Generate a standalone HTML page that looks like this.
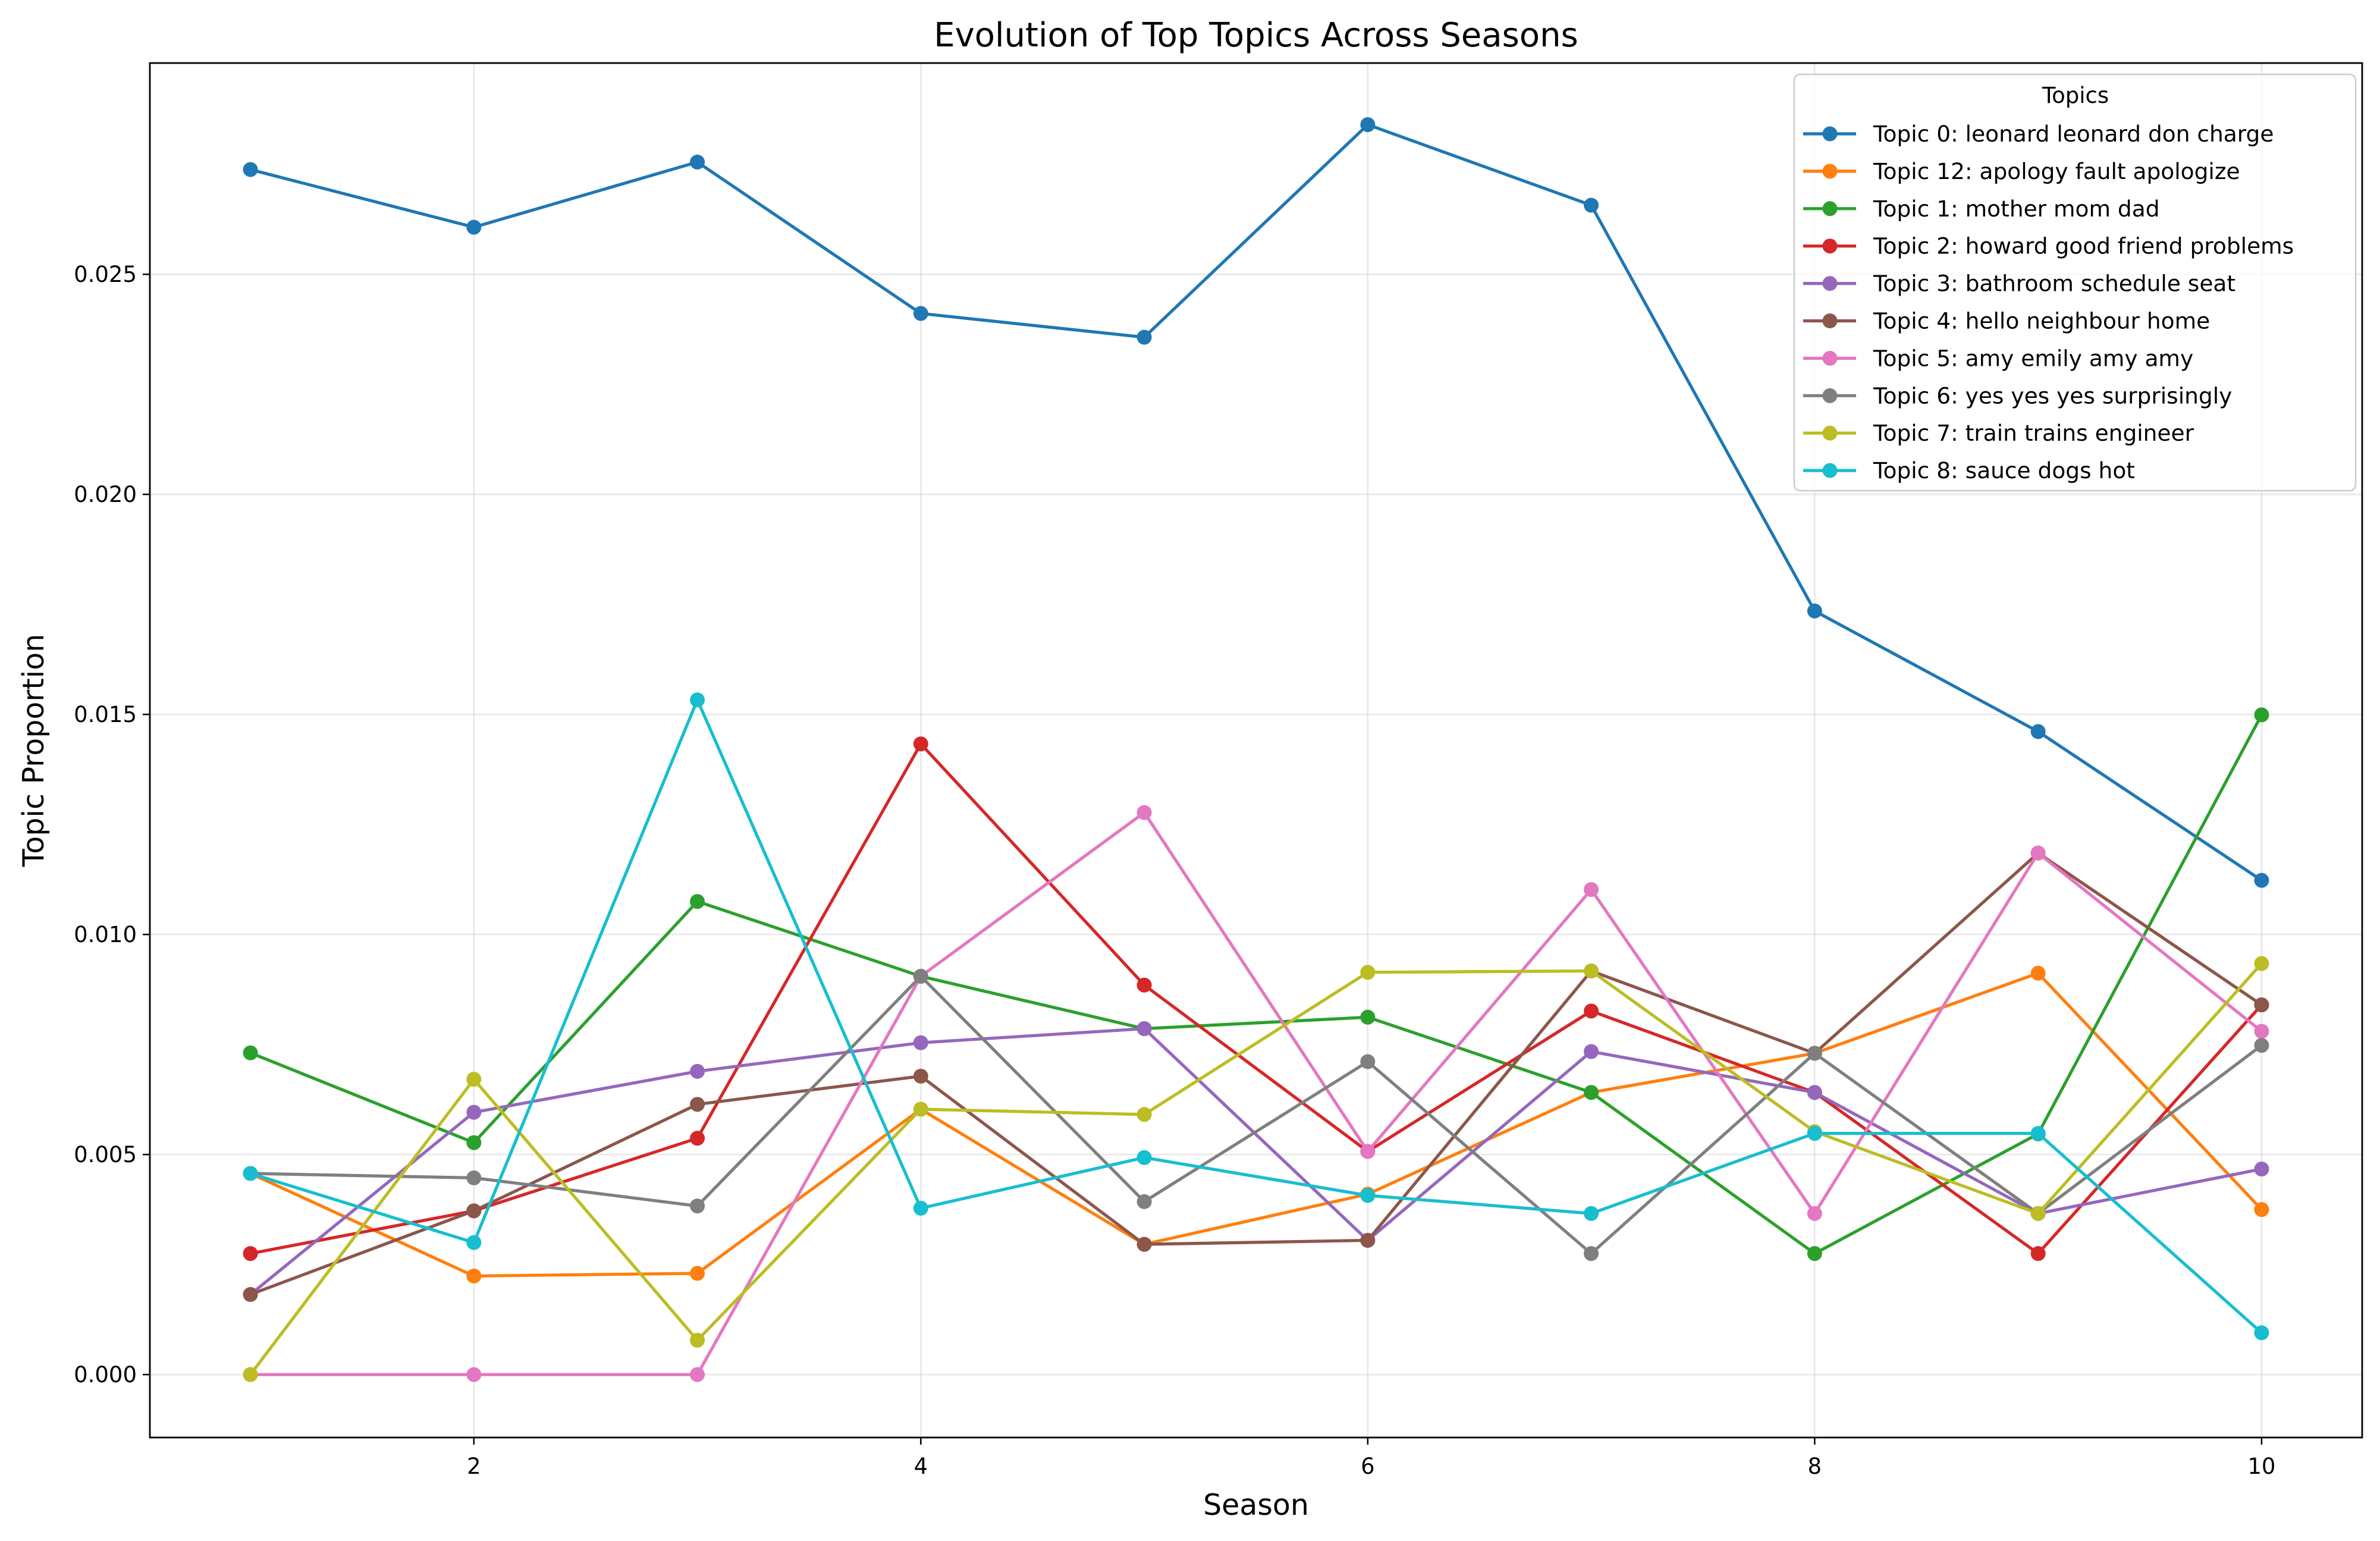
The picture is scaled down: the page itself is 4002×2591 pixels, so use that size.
<!DOCTYPE html>
<html><head><meta charset="utf-8"><style>
html,body{margin:0;padding:0;background:#fff;}
svg{display:block;font-family:"DejaVu Sans","Liberation Sans",sans-serif;}
</style></head><body>
<svg id="chart" width="4002" height="2591" viewBox="0 0 4002 2591" xmlns="http://www.w3.org/2000/svg">
<rect width="4002" height="2591" fill="#fff"/>
<g id="grid"></g><g id="series"></g><g id="axes"></g><g id="legend"></g>
</svg>
<script>
const seasons = [1,2,3,4,5,6,7,8,9,10];
const topicLabels = ["Topic 0: leonard leonard don charge","Topic 12: apology fault apologize","Topic 1: mother mom dad","Topic 2: howard good friend problems","Topic 3: bathroom schedule seat","Topic 4: hello neighbour home","Topic 5: amy emily amy amy","Topic 6: yes yes yes surprisingly","Topic 7: train trains engineer","Topic 8: sauce dogs hot"];
const topic0 = [0.02738,0.02607,0.02755,0.02411,0.02357,0.02840,0.02657,0.01735,0.01461,0.01123];
const topic12 = [0.00457,0.00224,0.00230,0.00603,0.00296,0.00410,0.00641,0.00730,0.00912,0.00375];
const topic1 = [0.00731,0.00527,0.01075,0.00905,0.00786,0.00812,0.00641,0.00275,0.00547,0.01499];
const topic2 = [0.00275,0.00372,0.00537,0.01433,0.00885,0.00507,0.00826,0.00641,0.00275,0.00840];
const topic3 = [0.00182,0.00596,0.00689,0.00754,0.00786,0.00305,0.00734,0.00641,0.00366,0.00467];
const topic4 = [0.00182,0.00372,0.00614,0.00678,0.00296,0.00305,0.00917,0.00730,0.01185,0.00840];
const topic5 = [0,0,0,0.00905,0.01277,0.00507,0.01102,0.00366,0.01185,0.00780];
const topic6 = [0.00457,0.00447,0.00383,0.00905,0.00393,0.00711,0.00275,0.00730,0.00366,0.00748];
const topic7 = [0,0.00671,0.00078,0.00603,0.00591,0.00914,0.00917,0.00552,0.00366,0.00934];
const topic8 = [0.00457,0.00300,0.01533,0.00378,0.00493,0.00407,0.00366,0.00548,0.00548,0.00095];
const xTicks = [2,4,6,8,10];
const yTicks = [0,0.005,0.010,0.015,0.020,0.025];
const yTickLabels = ["0.000","0.005","0.010","0.015","0.020","0.025"];

const allSeries = [topic0,topic12,topic1,topic2,topic3,topic4,topic5,topic6,topic7,topic8];
const colors = ["#1f77b4","#ff7f0e","#2ca02c","#d62728","#9467bd","#8c564b","#e377c2","#7f7f7f","#bcbd22","#17becf"];
const L=252,R=3972,T=106,B=2417;
const xMin=0.55,xMax=10.45,yMin=-0.00143,yMax=0.02980;
const xs=v=>L+(v-xMin)/(xMax-xMin)*(R-L);
const ys=v=>B-(v-yMin)/(yMax-yMin)*(B-T);
const NS="http://www.w3.org/2000/svg";
function mk(parent,tag,attrs,text){const e=document.createElementNS(NS,tag);for(const k in attrs)e.setAttribute(k,attrs[k]);if(text!==undefined)e.textContent=text;parent.appendChild(e);return e;}
const grid=document.getElementById('grid'),ser=document.getElementById('series'),axes=document.getElementById('axes'),leg=document.getElementById('legend');

xTicks.forEach(t=>{
 const x=xs(t);
 const g=mk(grid,'line',{x1:x,x2:x,y1:T,y2:B,stroke:'#b0b0b0','stroke-opacity':0.3,'stroke-width':2.5});
 
 
 const tk=mk(axes,'line',{x1:x,x2:x,y1:B,y2:B+12,stroke:'#000','stroke-width':2.5});
 
 
 const lb=mk(axes,'text',{x:x,y:B+61,'text-anchor':'middle','font-size':37},String(t));
 
 
});
yTicks.forEach((t,i)=>{
 const y=ys(t);
 const g=mk(grid,'line',{x1:L,x2:R,y1:y,y2:y,stroke:'#b0b0b0','stroke-opacity':0.3,'stroke-width':2.5});
 
 
 const tk=mk(axes,'line',{x1:L-12,x2:L,y1:y,y2:y,stroke:'#000','stroke-width':2.5});
 
 
 const lb=mk(axes,'text',{x:L-22,y:y+13,'text-anchor':'end','font-size':37},yTickLabels[i]);
 
 
});

allSeries.forEach((vals,si)=>{
 const g=mk(ser,'g',{});
 
 
 const pts=vals.map((v,i)=>xs(seasons[i])+','+ys(v)).join(' ');
 const pl=mk(g,'polyline',{points:pts,fill:'none',stroke:colors[si],'stroke-width':5.2,'stroke-linejoin':'round'});
 
 
 vals.forEach((v,i)=>{
  const c=mk(g,'circle',{cx:xs(seasons[i]),cy:ys(v),r:12.5,fill:colors[si]});
  
  
 });
});

const frame=mk(axes,'rect',{x:L,y:T,width:R-L,height:B-T,fill:'none',stroke:'#000','stroke-width':2.8});



const title=mk(axes,'text',{x:(L+R)/2,y:78,'text-anchor':'middle','font-size':56},'Evolution of Top Topics Across Seasons');


const xl=mk(axes,'text',{x:(L+R)/2,y:2547,'text-anchor':'middle','font-size':49},'Season');


const yl=mk(axes,'text',{x:0,y:0,'text-anchor':'middle','font-size':49,transform:'translate(73,'+((T+B)/2)+') rotate(-90)'},'Topic Proportion');



const lbox=mk(leg,'rect',{x:3017,y:125,width:944,height:700,rx:10,fill:'#fff','fill-opacity':0.8,stroke:'#cccccc','stroke-width':2.5});


const lt=mk(leg,'text',{x:3490,y:173,'text-anchor':'middle','font-size':37},'Topics');


topicLabels.forEach((lab,i)=>{
 const y=225+i*62.9;
 const g=mk(leg,'g',{});
 
 
 mk(g,'line',{x1:3032,x2:3121,y1:y,y2:y,stroke:colors[i],'stroke-width':5.2});
 mk(g,'circle',{cx:3077,cy:y,r:12.5,fill:colors[i]});
 mk(g,'text',{x:3150,y:y+13,'font-size':37.5},lab);
});
</script>
</body></html>
